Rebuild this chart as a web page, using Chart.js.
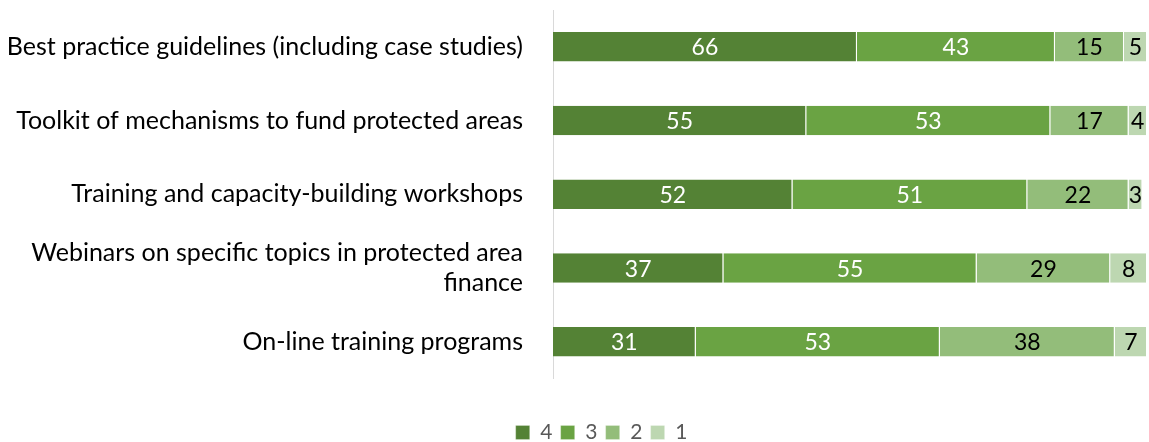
<!DOCTYPE html>
<html>
<head>
<meta charset="utf-8">
<script src="https://cdn.jsdelivr.net/npm/chart.js@4/dist/chart.umd.min.js"></script>
<style>
  body { margin: 0; background: #fff; }
  #wrap { width: 1149px; height: 442px; }
</style>
</head>
<body>
<div id="wrap"><canvas id="myChart" width="1149" height="442"></canvas></div>
<script>
const categories = [
  'Best practice guidelines (including case studies)',
  'Toolkit of mechanisms to fund protected areas',
  'Training and capacity-building workshops',
  ['Webinars on specific topics in protected area', 'finance'],
  'On-line training programs'
]
const score4 = [66, 55, 52, 37, 31]
const score3 = [43, 53, 51, 55, 53]
const score2 = [15, 17, 22, 29, 38]
const score1 = [5, 4, 3, 8, 7]
const seriesNames = ['4', '3', '2', '1']

const fills = ['#548235', '#6aa343', '#93bd7a', '#bdd7b1']
const labelColors = ['#ffffff', '#ffffff', '#000000', '#000000']

// draw the numbers inside each segment (no datalabels plugin available)
const valueLabels = {
  id: 'valueLabels',
  afterDatasetsDraw(chart) {
    const ctx = chart.ctx
    ctx.save()
    ctx.font = '23px Lato'
    ctx.textAlign = 'center'
    ctx.textBaseline = 'middle'
    chart.data.datasets.forEach((ds, i) => {
      const meta = chart.getDatasetMeta(i)
      meta.data.forEach((bar, j) => {
        const p = bar.getProps(['x', 'y', 'base'], true)
        ctx.fillStyle = labelColors[i]
        ctx.fillText(ds.data[j], (p.x + p.base) / 2, p.y + 1)
      })
    })
    ctx.restore()
  }
}

// the legend in the original sits a bit right of the page centre
const nudgeLegend = {
  id: 'nudgeLegend',
  afterLayout(chart) {
    chart.legend.left += 28
    chart.legend.right += 28
  }
}

const ctx = document.getElementById('myChart').getContext('2d')
const myChart = new Chart(ctx, {
  type: 'bar',
  data: {
    labels: categories,
    datasets: [score4, score3, score2, score1].map((vals, i) => ({
      label: seriesNames[i],
      data: vals,
      backgroundColor: fills[i],
      borderColor: '#ffffff',
      borderWidth: { left: 0, right: 1, top: 0, bottom: 0 },
      borderSkipped: false,
      barPercentage: 0.8,
      categoryPercentage: 0.5
    }))
  },
  options: {
    indexAxis: 'y',
    responsive: false,
    animation: false,
    layout: { padding: { top: 10, right: 2, left: 0, bottom: -11 } },
    scales: {
      x: {
        stacked: true,
        min: 0,
        max: 129,
        display: true,
        grid: { display: false },
        border: { display: false },
        ticks: { display: false },
        // empty space between the bars and the legend
        afterFit(scale) { scale.height = 35 }
      },
      y: {
        stacked: true,
        grid: { display: false, drawTicks: false },
        border: { display: true, color: '#d9d9d9', width: 1 },
        ticks: {
          color: '#000000',
          font: { family: 'Lato', size: 25, lineHeight: 1.2 },
          padding: 30
        },
        afterFit(scale) {
          scale.width = 553
          scale.paddingTop = 0
          scale.paddingBottom = 0
        }
      }
    },
    plugins: {
      legend: {
        position: 'bottom',
        labels: {
          color: '#595959',
          font: { family: 'Lato', size: 21 },
          boxWidth: 14,
          boxHeight: 14,
          padding: 8.3
        }
      },
      tooltip: { enabled: false }
    }
  },
  plugins: [valueLabels, nudgeLegend]
})
</script>
</body>
</html>
